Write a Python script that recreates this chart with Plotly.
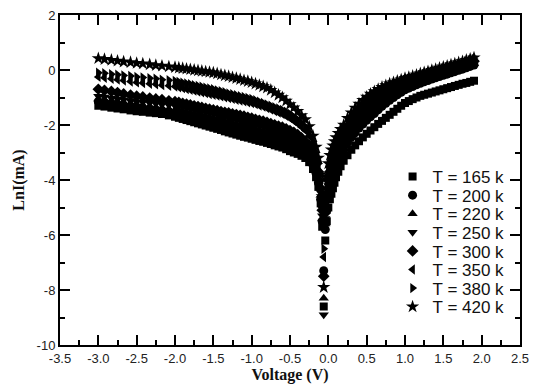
import plotly.graph_objects as go

voltage = [-3.0, -2.92, -2.83, -2.75, -2.67, -2.58, -2.5, -2.42, -2.33, -2.25, -2.17, -2.08,
           -2.0, -1.95, -1.9, -1.85, -1.8, -1.75, -1.7, -1.65, -1.6, -1.55, -1.5, -1.45, -1.4, -1.35,
           -1.3, -1.25, -1.2, -1.15, -1.1, -1.05, -1.0, -0.95, -0.9, -0.85, -0.8, -0.75, -0.7, -0.65,
           -0.6, -0.55, -0.5, -0.45, -0.4, -0.35, -0.3, -0.25,
           -0.2, -0.16, -0.13, -0.1, -0.08, -0.06,
           -0.04, -0.02, 0.0, 0.02, 0.04, 0.06, 0.08, 0.1, 0.13, 0.16,
           0.2, 0.25, 0.3, 0.35, 0.4, 0.45, 0.5, 0.55, 0.6, 0.65, 0.7, 0.75, 0.8, 0.85, 0.9, 0.95,
           1.0, 1.05, 1.1, 1.15, 1.2, 1.25, 1.3, 1.35, 1.4, 1.45, 1.5, 1.55, 1.6, 1.65, 1.7, 1.75,
           1.8, 1.85, 1.9]

lnI_165 = [-1.30, -1.33, -1.37, -1.40, -1.43, -1.47, -1.50, -1.52, -1.55, -1.57, -1.60, -1.65,
           -1.70, -1.74, -1.78, -1.82, -1.86, -1.90, -1.94, -1.98, -2.02, -2.06, -2.10,
           -2.14, -2.18, -2.23, -2.27, -2.31, -2.35, -2.39, -2.43, -2.46, -2.50,
           -2.54, -2.58, -2.61, -2.65, -2.69, -2.74, -2.78, -2.82,
           -2.88, -2.95, -3.00, -3.05, -3.12, -3.20, -3.35,
           -3.6, -3.9, -4.25, -4.85, -5.7, -8.6,
           -6.2, -5.5, -5.0, -4.7, -4.5, -4.3, -4.1, -3.9, -3.7, -3.5,
           -3.30, -3.10, -2.90, -2.74, -2.59, -2.45, -2.32, -2.20, -2.08, -1.96, -1.85, -1.74,
           -1.63, -1.52, -1.41, -1.30, -1.20, -1.13, -1.06, -1.00, -0.94, -0.90, -0.86, -0.82,
           -0.78, -0.74, -0.70, -0.66, -0.62, -0.58, -0.54, -0.50, -0.47, -0.43, -0.39]

lnI_200 = [-1.15, -1.18, -1.22, -1.25, -1.28, -1.32, -1.35, -1.38, -1.42, -1.45, -1.48, -1.52,
           -1.55, -1.59, -1.62, -1.66, -1.69, -1.73, -1.76, -1.80, -1.83, -1.87, -1.90,
           -1.93, -1.97, -2.00, -2.03, -2.07, -2.10, -2.14, -2.18, -2.21, -2.25,
           -2.29, -2.33, -2.36, -2.40, -2.45, -2.49, -2.54, -2.58,
           -2.64, -2.70, -2.77, -2.85, -2.95, -3.05, -3.20,
           -3.45, -3.75, -4.1, -4.7, -5.5, -7.3,
           -5.8, -5.1, -4.6, -4.3, -4.1, -3.9, -3.7, -3.5, -3.3, -3.1,
           -2.90, -2.65, -2.45, -2.28, -2.11, -1.97, -1.83, -1.70, -1.58, -1.45, -1.32, -1.21,
           -1.10, -1.00, -0.90, -0.81, -0.72, -0.66, -0.60, -0.54, -0.48, -0.43, -0.38, -0.33,
           -0.28, -0.24, -0.19, -0.15, -0.10, -0.06, -0.01, 0.03, 0.08, 0.13, 0.18]

lnI_220 = [-1.05, -1.08, -1.12, -1.15, -1.18, -1.22, -1.25, -1.28, -1.32, -1.35, -1.38, -1.42,
           -1.45, -1.48, -1.51, -1.54, -1.57, -1.60, -1.63, -1.66, -1.69, -1.72, -1.75,
           -1.78, -1.82, -1.85, -1.88, -1.92, -1.95, -1.99, -2.03, -2.06, -2.10,
           -2.14, -2.18, -2.21, -2.25, -2.29, -2.33, -2.38, -2.42,
           -2.48, -2.55, -2.62, -2.70, -2.80, -2.90, -3.05,
           -3.3, -3.6, -3.95, -4.55, -5.4, -8.3,
           -5.6, -4.9, -4.4, -4.1, -3.9, -3.7, -3.5, -3.3, -3.1, -2.9,
           -2.75, -2.50, -2.30, -2.13, -1.96, -1.82, -1.69, -1.56, -1.44, -1.32, -1.20, -1.10,
           -1.00, -0.91, -0.82, -0.73, -0.65, -0.59, -0.54, -0.48, -0.42, -0.37, -0.32, -0.28,
           -0.23, -0.19, -0.14, -0.10, -0.05, -0.01, 0.04, 0.08, 0.13, 0.18, 0.23]

lnI_250 = [-0.95, -0.98, -1.02, -1.05, -1.08, -1.12, -1.15, -1.17, -1.20, -1.22, -1.25, -1.27,
           -1.30, -1.33, -1.36, -1.39, -1.42, -1.45, -1.48, -1.51, -1.54, -1.57, -1.60,
           -1.63, -1.67, -1.70, -1.73, -1.77, -1.80, -1.84, -1.88, -1.91, -1.95,
           -1.99, -2.03, -2.06, -2.10, -2.15, -2.19, -2.24, -2.28,
           -2.34, -2.40, -2.47, -2.55, -2.65, -2.75, -2.90,
           -3.15, -3.5, -3.85, -4.45, -5.3, -8.9,
           -5.4, -4.7, -4.2, -3.9, -3.7, -3.5, -3.3, -3.15, -2.95, -2.75,
           -2.60, -2.35, -2.15, -1.98, -1.82, -1.68, -1.55, -1.43, -1.32, -1.20, -1.09, -1.00,
           -0.90, -0.82, -0.74, -0.66, -0.58, -0.53, -0.47, -0.42, -0.36, -0.32, -0.27, -0.22,
           -0.18, -0.14, -0.09, -0.05, 0.00, 0.04, 0.08, 0.12, 0.17, 0.22, 0.27]

lnI_300 = [-0.70, -0.74, -0.78, -0.82, -0.87, -0.91, -0.95, -0.98, -1.02, -1.05, -1.08, -1.12,
           -1.15, -1.18, -1.21, -1.24, -1.27, -1.30, -1.33, -1.36, -1.39, -1.42, -1.45,
           -1.48, -1.51, -1.54, -1.56, -1.59, -1.62, -1.65, -1.68, -1.72, -1.75,
           -1.79, -1.83, -1.86, -1.90, -1.95, -1.99, -2.04, -2.08,
           -2.14, -2.20, -2.27, -2.35, -2.47, -2.60, -2.75,
           -3.0, -3.35, -3.7, -4.3, -5.1, -7.5,
           -5.2, -4.5, -4.0, -3.7, -3.5, -3.3, -3.15, -3.0, -2.8, -2.6,
           -2.45, -2.20, -2.00, -1.83, -1.67, -1.54, -1.41, -1.29, -1.18, -1.08, -0.97, -0.89,
           -0.80, -0.73, -0.65, -0.58, -0.51, -0.46, -0.41, -0.36, -0.31, -0.26, -0.22, -0.17,
           -0.13, -0.09, -0.04, 0.00, 0.05, 0.09, 0.13, 0.17, 0.22, 0.27, 0.32]

lnI_350 = [-0.25, -0.28, -0.32, -0.35, -0.38, -0.42, -0.45, -0.47, -0.50, -0.52, -0.55, -0.57,
           -0.60, -0.63, -0.66, -0.69, -0.72, -0.75, -0.78, -0.81, -0.84, -0.87, -0.90,
           -0.93, -0.96, -0.99, -1.02, -1.05, -1.08, -1.11, -1.14, -1.17, -1.20,
           -1.24, -1.29, -1.33, -1.38, -1.44, -1.49, -1.55, -1.60,
           -1.67, -1.75, -1.85, -1.95, -2.07, -2.20, -2.40,
           -2.75, -3.15, -3.55, -4.2, -5.0, -6.8,
           -5.0, -4.3, -3.8, -3.5, -3.3, -3.1, -2.95, -2.8, -2.6, -2.45,
           -2.30, -2.05, -1.85, -1.68, -1.52, -1.39, -1.26, -1.14, -1.04, -0.95, -0.85, -0.77,
           -0.70, -0.63, -0.57, -0.50, -0.44, -0.39, -0.35, -0.30, -0.25, -0.20, -0.16, -0.12,
           -0.07, -0.03, 0.01, 0.05, 0.09, 0.13, 0.18, 0.22, 0.27, 0.31, 0.36]

lnI_380 = [-0.10, -0.12, -0.15, -0.17, -0.20, -0.22, -0.25, -0.27, -0.30, -0.32, -0.35, -0.37,
           -0.40, -0.43, -0.46, -0.49, -0.52, -0.55, -0.58, -0.61, -0.64, -0.67, -0.70,
           -0.74, -0.77, -0.81, -0.85, -0.88, -0.92, -0.95, -0.98, -1.02, -1.05,
           -1.10, -1.15, -1.20, -1.25, -1.30, -1.35, -1.40, -1.45,
           -1.52, -1.60, -1.70, -1.80, -1.92, -2.05, -2.25,
           -2.6, -3.0, -3.4, -4.0, -4.8, -6.5,
           -4.8, -4.1, -3.6, -3.3, -3.1, -2.95, -2.8, -2.65, -2.45, -2.3,
           -2.15, -1.90, -1.70, -1.53, -1.38, -1.25, -1.12, -1.01, -0.92, -0.83, -0.74, -0.67,
           -0.60, -0.54, -0.49, -0.43, -0.37, -0.33, -0.28, -0.24, -0.19, -0.15, -0.11, -0.06,
           -0.02, 0.02, 0.06, 0.10, 0.14, 0.18, 0.22, 0.26, 0.31, 0.35, 0.40]

lnI_420 = [0.42, 0.39, 0.36, 0.33, 0.30, 0.28, 0.25, 0.23, 0.20, 0.17, 0.15, 0.12,
           0.10, 0.08, 0.06, 0.04, 0.02, 0.00, -0.02, -0.04, -0.06, -0.08, -0.10,
           -0.13, -0.17, -0.20, -0.23, -0.27, -0.30, -0.34, -0.38, -0.41, -0.45,
           -0.50, -0.55, -0.60, -0.65, -0.73, -0.82, -0.91, -1.00,
           -1.12, -1.25, -1.37, -1.50, -1.65, -1.80, -2.05,
           -2.4, -2.8, -3.2, -3.8, -4.6, -7.9,
           -4.6, -3.9, -3.4, -3.1, -2.9, -2.75, -2.6, -2.45, -2.3, -2.15,
           -2.00, -1.75, -1.55, -1.38, -1.23, -1.10, -0.98, -0.87, -0.78, -0.70, -0.62, -0.56,
           -0.50, -0.45, -0.40, -0.35, -0.30, -0.26, -0.22, -0.18, -0.13, -0.09, -0.05, -0.01,
           0.03, 0.07, 0.11, 0.15, 0.19, 0.23, 0.27, 0.31, 0.36, 0.40, 0.45]

series_names = ["T = 165 k", "T = 200 k", "T = 220 k", "T = 250 k",
                "T = 300 k", "T = 350 k", "T = 380 k", "T = 420 k"]
series_values = [lnI_165, lnI_200, lnI_220, lnI_250, lnI_300, lnI_350, lnI_380, lnI_420]
symbols = ["square", "circle", "triangle-up", "triangle-down",
           "diamond", "triangle-left", "triangle-right", "star"]
sizes = [8, 9, 9, 9, 9, 9, 9, 10]

x_tickvals = [-3.5, -3.0, -2.5, -2.0, -1.5, -1.0, -0.5, 0.0, 0.5, 1.0, 1.5, 2.0, 2.5]
x_ticktext = ["-3.5", "-3.0", "-2.5", "-2.0", "-1.5", "-1.0", "-0.5", "0.0", "0.5", "1.0", "1.5", "2.0", "2.5"]
y_tickvals = [-10, -8, -6, -4, -2, 0, 2]
y_ticktext = ["-10", "-8", "-6", "-4", "-2", "0", "2"]

for s in series_values:
    assert len(s) == len(voltage), len(s)

fig = go.Figure()
legend_ids = ["legend"] + ["legend%d" % i for i in range(2, 9)]
for name, vals, sym, sz, lid in zip(series_names, series_values, symbols, sizes, legend_ids):
    fig.add_trace(go.Scatter(
        x=voltage, y=vals, mode="markers", name=name, legend=lid,
        marker=dict(symbol=sym, size=sz, color="black", line=dict(width=0)),
    ))

W, H = 537, 389
ml, mr, mt, mb = 60, 8, 14, 43
plot_h = H - mt - mb

legend_font = dict(family="Liberation Sans, Arial, sans-serif", size=17, color="#111")
first_center_px = 177
spacing_px = 18.7
layout_legends = {}
for i, lid in enumerate(legend_ids):
    ypx = first_center_px + spacing_px * i
    yp = (H - mb - ypx) / plot_h
    layout_legends[lid] = dict(
        x=0.723, y=yp, xanchor="left", yanchor="middle",
        bgcolor="rgba(0,0,0,0)", borderwidth=0, font=legend_font,
        itemsizing="trace",
    )

axis_common = dict(
    showgrid=False, zeroline=False, showline=True, linecolor="black", linewidth=2,
    ticks="inside", tickwidth=2, tickcolor="black", mirror="ticks",
    tickfont=dict(family="Liberation Sans, Arial, sans-serif", size=13, color="#222"),
)

fig.update_layout(
    width=W, height=H,
    margin=dict(l=ml, r=mr, t=mt, b=mb),
    paper_bgcolor="white", plot_bgcolor="white",
    showlegend=True,
    xaxis=dict(
        range=[-3.5, 2.5], tickmode="array", tickvals=x_tickvals, ticktext=x_ticktext,
        ticklen=10,
        minor=dict(ticks="inside", ticklen=5, tickwidth=2, tickcolor="black", dtick=0.25, tick0=-3.5),
        title=dict(text="<b>Voltage (V)</b>", standoff=4,
                   font=dict(family="Liberation Serif, Times New Roman, serif", size=16, color="#111")),
        **axis_common,
    ),
    yaxis=dict(
        range=[-10, 2], tickmode="array", tickvals=y_tickvals, ticktext=y_ticktext,
        ticklen=10,
        minor=dict(ticks="inside", ticklen=5, tickwidth=2, tickcolor="black", dtick=1, tick0=-10),
        title=dict(text="<b>LnI(mA)</b>", standoff=8,
                   font=dict(family="Liberation Serif, Times New Roman, serif", size=16, color="#111")),
        **axis_common,
    ),
    **layout_legends,
)

fig.write_html("out.html", config={"displayModeBar": False})
